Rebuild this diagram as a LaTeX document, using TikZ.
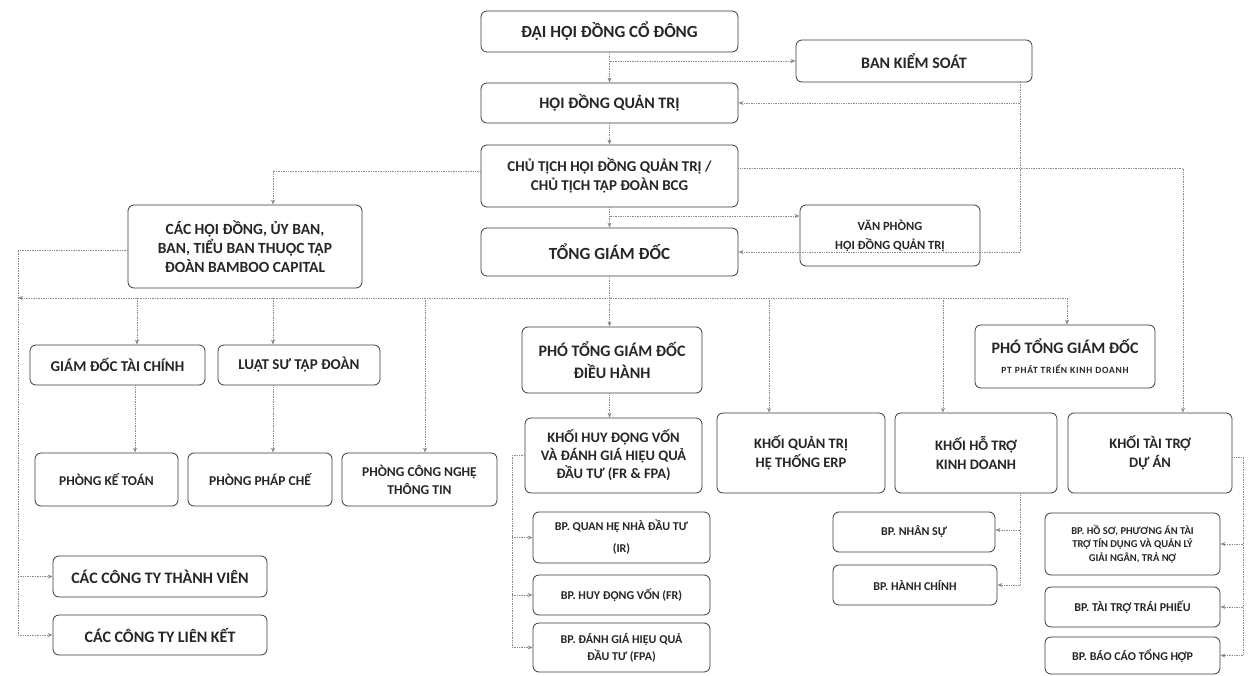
\documentclass[tikz,border=0pt]{standalone}
\usepackage{fontspec}
\setmainfont{Carlito}
\newfontfamily\spacedfont[LetterSpace=8]{Carlito}
\usetikzlibrary{arrows.meta,calc}
\definecolor{boxc}{HTML}{3A3A3A}
\definecolor{linec}{HTML}{8A8A8A}
\definecolor{txt}{HTML}{262626}
\newcommand\fsz[2]{\fontsize{#1}{#2}\selectfont}
\tikzset{
  box/.style={draw=boxc, line width=0.8pt, rounded corners=6pt, align=center,
    inner sep=0pt, text=txt, font=\bfseries},
  conn/.style={draw=linec, line width=0.7pt, densely dotted},
  arr/.style={conn, -{Stealth[length=5pt,width=4pt,inset=1.5pt]}},
}
\begin{document}
\begin{tikzpicture}[x=1pt,y=-1pt]
\useasboundingbox (0,0) rectangle (1248,676);
% ---- top
\node[box,minimum width=257,minimum height=41,font=\bfseries\fsz{17}{20}] (A) at (609.5,31.5) {ĐẠI HỘI ĐỒNG CỔ ĐÔNG};
\node[box,minimum width=236,minimum height=42,font=\bfseries\fsz{16}{19}] (B) at (914,61) {BAN KIỂM SOÁT};
\node[box,minimum width=257,minimum height=40,font=\bfseries\fsz{16}{19}] (C) at (609.5,103) {HỘI ĐỒNG QUẢN TRỊ};
\node[box,minimum width=257,minimum height=62,font=\bfseries\fsz{15}{19}] (D) at (609.5,176) {CHỦ TỊCH HỘI ĐỒNG QUẢN TRỊ /\\CHỦ TỊCH TẬP ĐOÀN BCG};
\node[box,minimum width=180,minimum height=61,font=\bfseries\fsz{12.5}{19}] (E) at (890,235.5) {VĂN PHÒNG\\HỘI ĐỒNG QUẢN TRỊ};
\node[box,minimum width=257,minimum height=48,font=\bfseries\fsz{17}{20}] (F) at (609.5,252) {TỔNG GIÁM ĐỐC};
\node[box,minimum width=234,minimum height=83,font=\bfseries\fsz{15.5}{19}] (G) at (245,246.5) {CÁC HỘI ĐỒNG, ỦY BAN,\\BAN, TIỂU BAN THUỘC TẬP\\ĐOÀN BAMBOO CAPITAL};
% ---- second level
\node[box,minimum width=175,minimum height=40,font=\bfseries\fsz{15}{18}] (GD) at (117.5,365) {GIÁM ĐỐC TÀI CHÍNH};
\node[box,minimum width=162,minimum height=40,font=\bfseries\fsz{15}{18}] (LS) at (299,365) {LUẬT SƯ TẬP ĐOÀN};
\node[box,minimum width=180,minimum height=66,font=\bfseries\fsz{16}{22}] (PDH) at (612,360) {PHÓ TỔNG GIÁM ĐỐC\\ĐIỀU HÀNH};
\node[box,minimum width=180,minimum height=63,font=\bfseries\fsz{16}{20}] (PPT) at (1065,356.5) {PHÓ TỔNG GIÁM ĐỐC\\{\spacedfont\bfseries\fsz{9.5}{12}PT PHÁT TRIỂN KINH DOANH}};
% ---- third level
\node[box,minimum width=143,minimum height=53,font=\bfseries\fsz{13.5}{18}] (PKT) at (106.5,479.5) {PHÒNG KẾ TOÁN};
\node[box,minimum width=144,minimum height=53,font=\bfseries\fsz{13.5}{18}] (PPC) at (260,479.5) {PHÒNG PHÁP CHẾ};
\node[box,minimum width=155,minimum height=53,font=\bfseries\fsz{13.5}{18}] (CNTT) at (419.5,479.5) {PHÒNG CÔNG NGHỆ\\THÔNG TIN};
\node[box,minimum width=177,minimum height=75,font=\bfseries\fsz{14.5}{18}] (KHD) at (613.5,455.5) {KHỐI HUY ĐỘNG VỐN\\VÀ ĐÁNH GIÁ HIỆU QUẢ\\ĐẦU TƯ (FR \& FPA)};
\node[box,minimum width=168,minimum height=80,font=\bfseries\fsz{14.5}{19}] (ERP) at (801,453) {KHỐI QUẢN TRỊ\\HỆ THỐNG ERP};
\node[box,minimum width=162,minimum height=80,font=\bfseries\fsz{14.5}{19}] (HT) at (976,453) {KHỐI HỖ TRỢ\\KINH DOANH};
\node[box,minimum width=164,minimum height=80,font=\bfseries\fsz{14.5}{19}] (TT) at (1150,453) {KHỐI TÀI TRỢ\\DỰ ÁN};
% ---- bottom
\node[box,minimum width=214,minimum height=41,font=\bfseries\fsz{16}{19}] (CTTV) at (160,576.5) {CÁC CÔNG TY THÀNH VIÊN};
\node[box,minimum width=214,minimum height=40,font=\bfseries\fsz{16}{19}] (CTLK) at (160,635) {CÁC CÔNG TY LIÊN KẾT};
\node[box,minimum width=177,minimum height=51,font=\bfseries\fsz{12}{22}] (IR) at (621.5,537.5) {BP. QUAN HỆ NHÀ ĐẦU TƯ\\(IR)};
\node[box,minimum width=177,minimum height=40,font=\bfseries\fsz{12}{17}] (FR) at (621.5,595) {BP. HUY ĐỘNG VỐN (FR)};
\node[box,minimum width=177,minimum height=49,font=\bfseries\fsz{12}{17}] (FPA) at (621.5,647.5) {BP. ĐÁNH GIÁ HIỆU QUẢ\\ĐẦU TƯ (FPA)};
\node[box,minimum width=162,minimum height=40,font=\bfseries\fsz{12}{17}] (NS) at (914,532) {BP. NHÂN SỰ};
\node[box,minimum width=164,minimum height=40,font=\bfseries\fsz{12}{17}] (HC) at (915,585) {BP. HÀNH CHÍNH};
\node[box,minimum width=175,minimum height=62,font=\bfseries\fsz{10.5}{13.5}] (HS) at (1132.5,544) {BP. HỒ SƠ, PHƯƠNG ÁN TÀI\\TRỢ TÍN DỤNG VÀ QUẢN LÝ\\GIẢI NGÂN, TRẢ NỢ};
\node[box,minimum width=175,minimum height=40,font=\bfseries\fsz{12}{17}] (TP) at (1132.5,607) {BP. TÀI TRỢ TRÁI PHIẾU};
\node[box,minimum width=175,minimum height=37,font=\bfseries\fsz{12}{17}] (BC) at (1132.5,655.5) {BP. BÁO CÁO TỔNG HỢP};
% ---- coordinates
\coordinate (ab) at (609.5,61);
\coordinate (bk) at (1020,82);
\coordinate (bkc) at (1020,103);
\coordinate (bkf) at (1020,252);
\coordinate (dl) at (273,171);
\coordinate (dr) at (1183,168);
\coordinate (de) at (609.5,216);
\coordinate (gl) at (18,250);
\coordinate (gt) at (18,576.5);
\coordinate (gb) at (18,635);
\coordinate (busl) at (18,298);
\coordinate (busm) at (609.5,298);
\coordinate (busr) at (1067,298);
\coordinate (kl) at (512,455.5);
\coordinate (k1) at (512,537.5);
\coordinate (k2) at (512,595);
\coordinate (k3) at (512,647.5);
\coordinate (h0) at (1020,493);
\coordinate (h1) at (1020,530);
\coordinate (h2) at (1020,585);
\coordinate (t0) at (1243,457);
\coordinate (t1) at (1243,544);
\coordinate (t2) at (1243,607);
\coordinate (t3) at (1243,655.5);
% ---- connectors
\draw[arr] (A.south) -- (C.north);
\draw[arr] (ab) -- (B.west |- ab);
\draw[conn] (bk) -- (bkf);
\draw[arr] (bkc) -- (C.east |- bkc);
\draw[arr] (bkf) -- (F.east |- bkf);
\draw[arr] (C.south) -- (D.north);
\draw[arr] (D.west |- dl) -- (dl) -- (dl |- G.north);
\draw[arr] (D.east |- dr) -- (dr) -- (dr |- TT.north);
\draw[arr] (D.south) -- (F.north);
\draw[arr] (de) -- (E.west |- de);
\draw[conn] (G.west |- gl) -- (gl) -- (gb);
\draw[arr] (gt) -- (CTTV.west |- gt);
\draw[arr] (gb) -- (CTLK.west |- gb);
\draw[arr] (F.south) -- (PDH.north -| F.south);
\draw[arr] (busm) -- (busl);
\draw[arr] (busm) -- (busr) -- (PPT.north -| busr);
\draw[arr] (137,298) -- (GD.north -| 137,0);
\draw[arr] (273,298) -- (LS.north -| 273,0);
\draw[arr] (425,298) -- (CNTT.north -| 425,0);
\draw[arr] (769,298) -- (ERP.north -| 769,0);
\draw[arr] (943,298) -- (HT.north -| 943,0);
\draw[arr] (GD.south -| 135,0) -- (PKT.north -| 135,0);
\draw[arr] (LS.south -| 273,0) -- (PPC.north -| 273,0);
\draw[arr] (PDH.south -| F.south) -- (KHD.north -| F.south);
\draw[conn] (KHD.west |- kl) -- (kl) -- (k3);
\draw[arr] (k1) -- (IR.west |- k1);
\draw[arr] (k2) -- (FR.west |- k2);
\draw[arr] (k3) -- (FPA.west |- k3);
\draw[conn] (HT.south -| h0) -- (h2);
\draw[arr] (h1) -- (NS.east |- h1);
\draw[arr] (h2) -- (HC.east |- h2);
\draw[conn] (TT.east |- t0) -- (t0) -- (t3);
\draw[arr] (t1) -- (HS.east |- t1);
\draw[arr] (t2) -- (TP.east |- t2);
\draw[arr] (t3) -- (BC.east |- t3);
\end{tikzpicture}
\end{document}
